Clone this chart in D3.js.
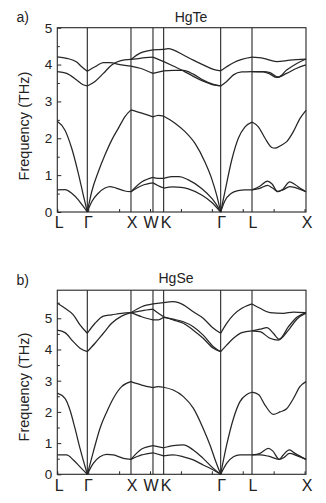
<!DOCTYPE html>
<html>
<head>
<meta charset="utf-8">
<script src="https://cdn.jsdelivr.net/npm/d3@7"></script>
<style>
  html, body { margin: 0; padding: 0; background: #fff; }
  svg { display: block; font-family: "Liberation Sans", Arial, sans-serif; }
</style>
</head>
<body>
<svg id="chart" width="326" height="503"></svg>
<script>
// ---------- data ----------
const kTicks = [0, 0.971, 2.384, 3.096, 3.441, 5.286, 6.300, 8.047];
const kLabels = ["L", "Γ", "X", "W", "K", "Γ", "L", "X"];
const xMinorTicks = [0, 1, 2, 3, 4, 5, 6, 7, 8];
const yTicksTe = [0, 1, 2, 3, 4, 5];
const yTicksSe = [0, 1, 2, 3, 4, 5];
const panelTitles = ["HgTe", "HgSe"];
const panelTags = ["a)", "b)"];
const yLabel = "Frequency (THz)";

// HgTe phonon branches [k, THz]
const teLA = [[0,2.46],[0.249,2.22],[0.466,1.73],[0.68,1.05],[0.841,0.46],[0.971,0],
  [1.113,0.55],[1.327,1.09],[1.544,1.55],[1.76,1.95],[1.974,2.27],[2.191,2.59],[2.384,2.77],
  [2.74,2.68],[3.096,2.58],[3.275,2.62],[3.441,2.6],
  [3.809,2.41],[4.133,2.18],[4.456,1.86],[4.78,1.35],[4.997,0.9],[5.159,0.45],[5.286,0],
  [5.424,0.55],[5.644,1.41],[5.858,2.0],[6.074,2.31],[6.3,2.44],
  [6.505,2.31],[6.722,2.0],[6.939,1.75],[7.045,1.73],[7.262,1.82],[7.424,1.91],[7.638,2.18],[7.854,2.54],[8.047,2.76]];
const teTA1 = [[0,0.6],[0.249,0.61],[0.466,0.51],[0.68,0.33],[0.841,0.15],[0.971,0],
  [1.113,0.28],[1.327,0.51],[1.544,0.65],[1.705,0.69],[1.90,0.65],[2.19,0.57],[2.384,0.55],
  [2.74,0.72],[3.096,0.79],[3.25,0.72],[3.441,0.65],
  [3.75,0.68],[4.0,0.67],[4.24,0.63],[4.67,0.46],[5.0,0.26],[5.286,0],
  [5.42,0.3],[5.62,0.5],[5.85,0.58],[6.07,0.6],[6.3,0.6],
  [6.55,0.64],[6.8,0.72],[6.95,0.66],[7.13,0.56],[7.3,0.6],[7.52,0.69],[7.7,0.66],[7.9,0.6],[8.047,0.55]];
const teTA2 = [[0,0.6],[0.249,0.61],[0.466,0.51],[0.68,0.33],[0.841,0.15],[0.971,0],
  [1.113,0.28],[1.327,0.51],[1.544,0.65],[1.705,0.69],[1.90,0.65],[2.19,0.57],[2.384,0.55],
  [2.74,0.82],[3.096,0.94],[3.25,0.91],[3.441,0.91],
  [3.70,0.96],[3.95,0.96],[4.24,0.87],[4.67,0.64],[5.0,0.37],[5.15,0.2],[5.286,0],
  [5.42,0.3],[5.62,0.5],[5.85,0.58],[6.07,0.6],[6.3,0.6],
  [6.55,0.7],[6.8,0.84],[6.95,0.76],[7.13,0.55],[7.3,0.62],[7.52,0.82],[7.7,0.74],[7.9,0.62],[8.047,0.55]];
const teOpt1 = [[0,4.21],[0.304,4.17],[0.627,4.07],[0.79,3.94],[0.971,3.82],
  [1.22,3.94],[1.49,4.05],[1.705,4.05],[2.03,4.0],[2.25,3.97],[2.384,3.96],
  [2.68,3.9],[3.096,3.76],[3.441,3.83],
  [3.75,3.84],[4.08,3.84],[4.40,3.74],[4.72,3.58],[5.05,3.46],[5.286,3.42],
  [5.48,3.54],[5.70,3.72],[5.97,3.8],[6.3,3.81],
  [6.67,3.8],[6.88,3.74],[7.1,3.65],[7.42,3.76],[7.75,3.9],[8.047,3.99]];
const teOpt2 = [[0,3.81],[0.304,3.76],[0.627,3.58],[0.82,3.46],[0.971,3.42],
  [1.22,3.54],[1.49,3.76],[1.76,3.99],[2.03,4.1],[2.384,4.14],
  [2.68,4.17],[3.096,4.2],[3.441,4.08],
  [3.75,3.96],[4.08,3.83],[4.40,3.68],[4.72,3.55],[5.05,3.45],[5.286,3.42],
  [5.48,3.54],[5.70,3.72],[5.97,3.8],[6.3,3.81],
  [6.67,3.81],[6.88,3.78],[7.15,3.66],[7.42,3.85],[7.75,4.03],[8.047,4.15]];
const teOpt3 = [[0,3.81],[0.304,3.76],[0.627,3.58],[0.82,3.46],[0.971,3.42],
  [1.22,3.54],[1.49,3.76],[1.76,3.99],[2.03,4.1],[2.384,4.14],
  [2.68,4.31],[3.096,4.4],[3.441,4.41],
  [3.6,4.43],[3.75,4.4],[4.08,4.26],[4.40,4.12],[4.72,3.99],[5.05,3.87],[5.286,3.83],
  [5.48,3.94],[5.70,4.05],[5.97,4.14],[6.3,4.2],
  [6.67,4.17],[7.1,4.08],[7.53,4.12],[8.047,4.15]];

// HgSe phonon branches [k, THz]
const seLA = [[0,2.6],[0.249,2.43],[0.41,2.06],[0.573,1.47],[0.735,0.83],[0.971,0],
  [1.165,0.72],[1.38,1.47],[1.6,2.0],[1.81,2.43],[2.08,2.81],[2.384,2.97],
  [2.73,2.86],[3.096,2.78],[3.27,2.81],[3.441,2.79],
  [3.75,2.7],[4.08,2.49],[4.40,2.12],[4.72,1.47],[4.94,0.94],[5.13,0.4],[5.286,0],
  [5.48,0.94],[5.70,1.79],[5.91,2.33],[6.13,2.56],[6.3,2.63],
  [6.51,2.56],[6.72,2.22],[6.99,1.92],[7.21,2.0],[7.42,2.1],[7.64,2.43],[7.85,2.81],[8.047,2.97]];
const seTA1 = [[0,0.62],[0.30,0.62],[0.52,0.46],[0.735,0.24],[0.971,0],
  [1.165,0.35],[1.38,0.56],[1.6,0.64],[1.81,0.62],[2.14,0.51],[2.384,0.48],
  [2.73,0.62],[3.096,0.69],[3.441,0.59],
  [3.75,0.62],[4.08,0.56],[4.40,0.46],[4.72,0.3],[5.05,0.14],[5.286,0],
  [5.48,0.35],[5.70,0.56],[5.91,0.62],[6.3,0.62],
  [6.56,0.62],[6.83,0.58],[7.18,0.48],[7.35,0.55],[7.51,0.67],[7.75,0.6],[8.047,0.48]];
const seTA2 = [[0,0.62],[0.30,0.62],[0.52,0.46],[0.735,0.24],[0.971,0],
  [1.165,0.35],[1.38,0.56],[1.6,0.64],[1.81,0.62],[2.14,0.51],[2.384,0.48],
  [2.73,0.81],[3.096,0.92],[3.441,0.85],
  [3.75,0.92],[4.08,0.94],[4.40,0.78],[4.72,0.51],[5.05,0.19],[5.286,0],
  [5.48,0.35],[5.70,0.56],[5.91,0.62],[6.3,0.62],
  [6.56,0.67],[6.83,0.83],[6.97,0.75],[7.18,0.48],[7.31,0.62],[7.51,0.78],[7.69,0.67],[8.047,0.48]];
const seOpt1 = [[0,5.48],[0.249,5.32],[0.518,5.11],[0.735,4.79],[0.971,4.52],
  [1.22,4.84],[1.49,5.07],[1.76,5.11],[2.08,5.16],[2.384,5.18],
  [2.73,5.05],[3.096,4.95],[3.27,4.95],[3.441,5.03],
  [3.75,4.97],[4.08,4.89],[4.40,4.73],[4.72,4.46],[5.05,4.09],[5.286,3.93],
  [5.48,4.14],[5.70,4.36],[5.97,4.54],[6.3,4.6],
  [6.56,4.57],[6.88,4.36],[7.15,4.3],[7.48,4.62],[7.75,4.97],[8.047,5.16]];
const seOpt2 = [[0,4.62],[0.249,4.54],[0.518,4.25],[0.735,4.04],[0.971,3.93],
  [1.22,4.2],[1.49,4.52],[1.76,4.84],[2.08,5.07],[2.384,5.18],
  [2.73,5.24],[3.096,5.29],[3.27,5.16],[3.441,5.05],
  [3.75,4.95],[4.08,4.84],[4.40,4.62],[4.72,4.36],[5.05,4.04],[5.286,3.93],
  [5.48,4.14],[5.70,4.36],[5.97,4.54],[6.3,4.6],
  [6.56,4.65],[6.78,4.7],[6.99,4.52],[7.18,4.33],[7.48,4.73],[7.75,5.03],[8.047,5.18]];
const seOpt3 = [[0,4.62],[0.249,4.54],[0.518,4.25],[0.735,4.04],[0.971,3.93],
  [1.22,4.2],[1.49,4.52],[1.76,4.84],[2.08,5.07],[2.384,5.18],
  [2.73,5.37],[3.096,5.46],[3.441,5.5],
  [3.75,5.53],[4.08,5.43],[4.40,5.21],[4.72,5.0],[5.05,4.68],[5.286,4.52],
  [5.48,4.84],[5.70,5.11],[5.97,5.32],[6.3,5.46],
  [6.56,5.32],[6.88,5.18],[7.31,5.16],[7.64,5.2],[8.047,5.18]];

// ---------- drawing ----------
const svg = d3.select("#chart");
const ink = "#262626";
const FONT = '"Liberation Sans", Arial, sans-serif';

const panels = [
  { title: panelTitles[0], tag: panelTags[0], yMax: 5, yTicks: yTicksTe,
    bands: [teLA, teTA1, teTA2, teOpt1, teOpt2, teOpt3],
    top: 27.7, bottom: 212, titleX: 191, titleY: 21.5, tagY: 22, labelY: 126 },
  { title: panelTitles[1], tag: panelTags[1], yMax: 5.9, yTicks: yTicksSe,
    bands: [seLA, seTA1, seTA2, seOpt1, seOpt2, seOpt3],
    top: 290.2, bottom: 474.3, titleX: 176, titleY: 283.3, tagY: 285, labelY: 387 }
];

const left = 57.3, right = 306;
const x = d3.scaleLinear().domain([kTicks[0], kTicks[kTicks.length - 1]]).range([left, right]);

panels.forEach(p => {
  const y = d3.scaleLinear().domain([0, p.yMax]).range([p.bottom, p.top]);
  const g = svg.append("g");

  // vertical high-symmetry lines
  g.selectAll("line.hs").data(kTicks.slice(1, -1)).join("line")
    .attr("x1", d => x(d)).attr("x2", d => x(d))
    .attr("y1", p.top).attr("y2", p.bottom)
    .attr("stroke", ink).attr("stroke-width", 1.1);

  // bands, split at high-symmetry points; degenerate (identical) pieces drawn once
  const line = d3.line().x(d => x(d[0])).y(d => y(d[1])).curve(d3.curveMonotoneX);
  const drawn = new Set();
  p.bands.forEach(band => {
    for (let i = 0; i < kTicks.length - 1; i++) {
      const a = kTicks[i] - 1e-6, b = kTicks[i + 1] + 1e-6;
      const seg = band.filter(d => d[0] >= a && d[0] <= b);
      if (seg.length > 1) {
        const key = JSON.stringify(seg);
        if (drawn.has(key)) continue;
        drawn.add(key);
        g.append("path").attr("d", line(seg))
          .attr("fill", "none").attr("stroke", ink).attr("stroke-width", 1.25)
          .attr("stroke-linejoin", "round");
      }
    }
  });

  // frame
  g.append("rect").attr("x", left).attr("y", p.top)
    .attr("width", right - left).attr("height", p.bottom - p.top)
    .attr("fill", "none").attr("stroke", ink).attr("stroke-width", 1.1);

  // y axis major ticks + labels
  const yAxis = g.append("g").attr("transform", `translate(${left},0)`)
    .call(d3.axisLeft(y).tickValues(p.yTicks).tickFormat(d3.format("d"))
      .tickSize(-4).tickPadding(5));
  yAxis.select(".domain").remove();
  yAxis.selectAll("line").attr("stroke", ink);
  yAxis.selectAll("text").attr("font-size", 13.5).attr("font-family", FONT).attr("fill", "#222");

  // y minor ticks
  const minor = d3.range(0.5, p.yMax, 1);
  const yMinor = g.append("g").attr("transform", `translate(${left},0)`)
    .call(d3.axisLeft(y).tickValues(minor).tickFormat("").tickSize(-2.5));
  yMinor.select(".domain").remove();
  yMinor.selectAll("line").attr("stroke", ink);

  // x minor ticks
  const xMinor = g.append("g").attr("transform", `translate(0,${p.bottom})`)
    .call(d3.axisBottom(x).tickValues(xMinorTicks).tickFormat("").tickSize(-3));
  xMinor.select(".domain").remove();
  xMinor.selectAll("line").attr("stroke", ink);

  // x labels
  const xAxis = g.append("g").attr("transform", `translate(0,${p.bottom})`)
    .call(d3.axisBottom(x).tickValues(kTicks).tickFormat((d, i) => kLabels[i])
      .tickSize(0).tickPadding(5));
  xAxis.select(".domain").remove();
  xAxis.selectAll("text").attr("font-size", 16).attr("font-family", FONT).attr("fill", "#222")
    .attr("dx", (d, i) => (i === 3 ? -2.5 : i === 4 ? 2 : i === 0 ? 1.5 : 0.5));

  // y label
  g.append("text").attr("transform", `translate(29,${p.labelY}) rotate(-90)`)
    .attr("text-anchor", "middle").attr("font-size", 14.5).attr("font-family", FONT)
    .attr("fill", "#222").text(yLabel);

  // title and tag
  g.append("text").attr("x", p.titleX).attr("y", p.titleY)
    .attr("text-anchor", "middle").attr("font-size", 14).attr("font-family", FONT)
    .attr("fill", "#222").text(p.title);
  g.append("text").attr("x", 16.5).attr("y", p.tagY)
    .attr("font-size", 14).attr("font-family", FONT).attr("fill", "#222").text(p.tag);
});
</script>
</body>
</html>
